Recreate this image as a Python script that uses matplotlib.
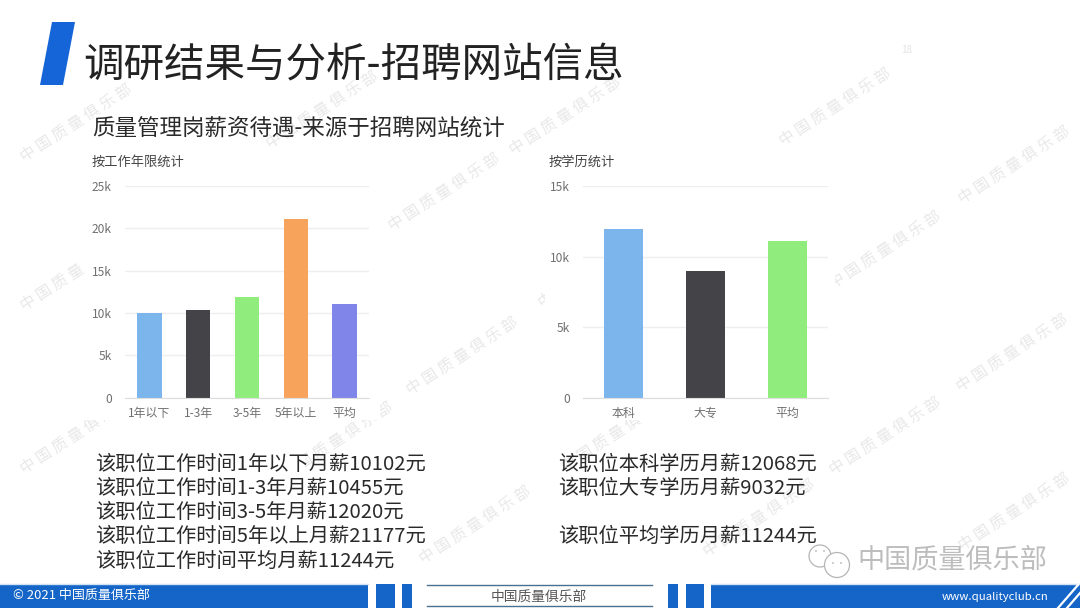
import matplotlib
matplotlib.use('Agg')
import matplotlib.pyplot as plt
from matplotlib.patches import Polygon, Rectangle, Circle

plt.rcParams['font.family'] = ['Noto Sans CJK SC', 'DejaVu Sans']

W, H = 1080, 608

# data
years = ['1年以下', '1-3年', '3-5年', '5年以上', '平均']
year_pay = [10000, 10360, 11900, 21100, 11050]
year_colors = ['#7cb5ec', '#434348', '#90ed7d', '#f7a35c', '#8085e9']
year_ticks = [0, 5000, 10000, 15000, 20000, 25000]
year_ticklabels = ['0', '5k', '10k', '15k', '20k', '25k']

edu = ['本科', '大专', '平均']
edu_pay = [11950, 8950, 11130]
edu_colors = ['#7cb5ec', '#434348', '#90ed7d']
edu_ticks = [0, 5000, 10000, 15000]
edu_ticklabels = ['0', '5k', '10k', '15k']

left_lines = ['该职位工作时间1年以下月薪10102元', '该职位工作时间1-3年月薪10455元',
              '该职位工作时间3-5年月薪12020元', '该职位工作时间5年以上月薪21177元',
              '该职位工作时间平均月薪11244元']
right_lines = ['该职位本科学历月薪12068元', '该职位大专学历月薪9032元', '该职位平均学历月薪11244元']

fig = plt.figure(figsize=(W / 100, H / 100), dpi=100)

# background layer in pixel coordinates
bg = fig.add_axes([0, 0, 1, 1], zorder=0)
bg.set_xlim(0, W)
bg.set_ylim(H, 0)
bg.axis('off')

# watermark
marks = [(76, 123), (322, 110), (565, 116), (835, 107), (1014, 165), (444, 192),
         (885, 250), (76, 272), (594, 269), (462, 356), (1012, 353), (76, 435),
         (337, 441), (617, 433), (885, 436), (475, 525), (759, 518), (1014, 512)]
for mx, my in marks:
    bg.text(mx, my, '中 国 质 量 俱 乐 部', fontsize=11.2, color='#e8e8e8', rotation=33,
            ha='center', va='center', rotation_mode='anchor', zorder=1)

# the charts and the left text block sit on white boxes that hide the watermark
for x0, y0, x1, y1 in [(84, 150, 380, 420), (545, 150, 835, 420), (85, 455, 305, 580)]:
    bg.add_patch(Rectangle((x0, y0), x1 - x0, y1 - y0, color='white', lw=0, zorder=2))

# header
bg.add_patch(Polygon([(52, 22), (75, 22), (63, 85), (40, 85)], color='#1565d8', lw=0, zorder=3))
bg.text(83, 65, '调研结果与分析-招聘网站信息', fontsize=29.2, color='#222222', va='center', zorder=3)
bg.text(92, 128, '质量管理岗薪资待遇-来源于招聘网站统计', fontsize=16.2, color='#2a2a2a', va='center', zorder=3)
bg.text(92, 162, '按工作年限统计', fontsize=9.5, color='#444444', va='center', zorder=3)
bg.text(549, 162, '按学历统计', fontsize=9.5, color='#444444', va='center', zorder=3)
bg.text(907, 50, '18', fontsize=7, color='#e4e4e4', ha='center', va='center', zorder=3)

# body text
for y, s in zip([465, 488, 512, 536, 561], left_lines):
    bg.text(95.5, y, s, fontsize=14.6, color='#2a2a2a', va='center', zorder=3)
for y, s in zip([465, 488, 536], right_lines):
    bg.text(558, y, s, fontsize=14.6, color='#2a2a2a', va='center', zorder=3)

# footer
blue = '#1565c8'
for x0, x1 in [(0, 368), (376, 395), (402, 412), (668, 678), (686, 704), (711, W)]:
    bg.add_patch(Rectangle((x0, 584), x1 - x0, 24, color=blue, lw=0, zorder=3))
bg.plot([0, 368], [583.5, 583.5], color='#cfe3f5', lw=1, zorder=3)
bg.plot([711, W], [583.5, 583.5], color='#cfe3f5', lw=1, zorder=3)
bg.plot([427, 652], [585, 585], color='#4a6f8f', lw=1, zorder=3)
bg.plot([427, 652], [606, 606], color='#4a6f8f', lw=1, zorder=3)
for dx in [0, 9]:
    bg.plot([1058 + dx, 1078 + dx], [608, 585], color='white', lw=1.6, zorder=4)
bg.text(13, 595, '© 2021 中国质量俱乐部', fontsize=9.4, color='white', va='center', zorder=4)
bg.text(539, 597, '中国质量俱乐部', fontsize=9.9, color='#555555', ha='center', va='center', zorder=4)
bg.text(1048, 597, 'www.qualityclub.cn', fontsize=8.2, color='white', ha='right', va='center', zorder=4)

# wechat stamp
bg.add_patch(Circle((820, 556), 11, fc='white', ec='#b5b5b5', lw=0.9, zorder=3))
bg.add_patch(Circle((837, 565), 12.5, fc='white', ec='#b5b5b5', lw=0.9, zorder=3))
for ex, ey in [(816, 551), (824, 551), (833, 563), (841, 563)]:
    bg.add_patch(Circle((ex, ey), 1, fc='#c4c4c4', lw=0, zorder=4))
bg.text(952, 560, '中国质量俱乐部', fontsize=19.5, color='#bdbdbd', ha='center', va='center', zorder=3)


def bar_panel(x0, x1, cats, vals, colors, ticks, ticklabels, width):
    ax = fig.add_axes([x0 / W, 1 - 397.7 / H, (x1 - x0) / W, (397.7 - 186) / H], zorder=1)
    ax.patch.set_alpha(0)
    ax.bar(range(len(cats)), vals, width=width, color=colors, zorder=2)
    ax.set_xlim(-0.5, len(cats) - 0.5)
    ax.set_ylim(0, ticks[-1])
    ax.set_xticks(range(len(cats)))
    ax.set_xticklabels(cats)
    ax.set_yticks(ticks)
    ax.set_yticklabels(ticklabels)
    ax.tick_params(axis='x', length=0, pad=6.5, labelsize=8.6, labelcolor='#707070')
    ax.tick_params(axis='y', length=0, pad=9.5, labelsize=8.6, labelcolor='#707070')
    ax.grid(axis='y', color='#eeeeee', lw=1, zorder=1)
    ax.set_axisbelow(True)
    for name in ['top', 'left', 'right']:
        ax.spines[name].set_visible(False)
    ax.spines['bottom'].set_color('#dddddd')
    return ax


bar_panel(125, 369, years, year_pay, year_colors, year_ticks, year_ticklabels, 0.5)
bar_panel(583, 828, edu, edu_pay, edu_colors, edu_ticks, edu_ticklabels, 0.48)

fig.savefig('out.png', dpi=100)
